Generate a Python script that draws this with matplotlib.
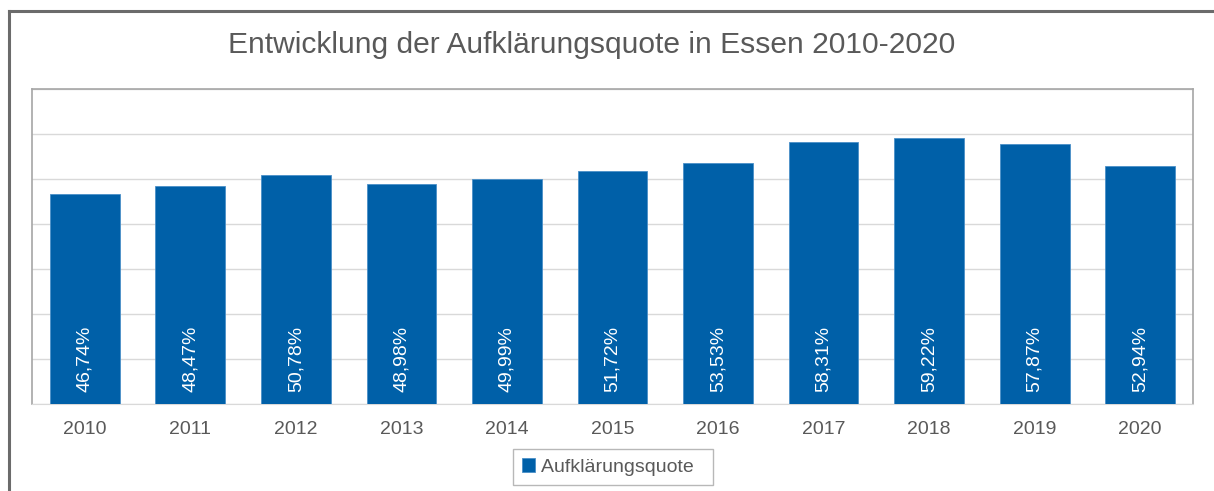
import matplotlib
matplotlib.use('Agg')
import matplotlib.pyplot as plt
from matplotlib.lines import Line2D

years = ['2010', '2011', '2012', '2013', '2014', '2015', '2016', '2017', '2018', '2019', '2020']
quote = [46.74, 48.47, 50.78, 48.98, 49.99, 51.72, 53.53, 58.31, 59.22, 57.87, 52.94]
labels = ['46,74%', '48,47%', '50,78%', '48,98%', '49,99%', '51,72%',
          '53,53%', '58,31%', '59,22%', '57,87%', '52,94%']

plt.rcParams['font.family'] = ['Liberation Sans', 'DejaVu Sans']
grey_txt = '#595959'
bar_col = '#0060a8'

fig = plt.figure(figsize=(12.14, 4.91), dpi=100)
ax = fig.add_axes([32/1214, 1 - 404/491, (1193 - 32)/1214, (404 - 89)/491])

x = range(len(years))
ax.bar(x, quote, width=0.66, color=bar_col, edgecolor='#4a8fc8', linewidth=0.6, zorder=3,
       label='Aufklärungsquote')
for i, lab in enumerate(labels):
    ax.annotate(lab, (i, 0), xytext=(0, 9), textcoords='offset points', rotation=90,
                ha='center', va='bottom', color='white', fontsize=14, zorder=4)

ax.set_xlim(-0.5, len(years) - 0.5)
ax.set_ylim(0, 70)
ax.set_yticks(range(0, 71, 10))
ax.yaxis.grid(True, color='#d9d9d9', linewidth=1)
ax.tick_params(axis='y', left=False, labelleft=False)
ax.set_xticks(list(x))
ax.set_xticklabels(years, fontsize=14, color=grey_txt)
ax.tick_params(axis='x', length=0, pad=12)
for s in ['left', 'top', 'right']:
    ax.spines[s].set_color('#a6a6a6')
    ax.spines[s].set_linewidth(1.2)
ax.spines['bottom'].set_color('#d9d9d9')

fig.text(592/1214, 1 - 45/491, 'Entwicklung der Aufklärungsquote in Essen 2010-2020',
         ha='center', va='center', fontsize=21.6, color=grey_txt)

leg = ax.legend(loc='center', bbox_to_anchor=(613/1214, 1 - 467/491),
                bbox_transform=fig.transFigure, frameon=True, fancybox=False,
                fontsize=14, handlelength=0.7, handleheight=0.7, handletextpad=0.3,
                borderpad=0.45, borderaxespad=0, labelcolor=grey_txt)
leg.get_frame().set_edgecolor('#a6a6a6')
leg.get_frame().set_linewidth(1)
leg._legend_box.sep = 0
leg.get_frame().set_boxstyle('square', pad=0)
# trailing spaces widen the box like the reference
for t in leg.get_texts():
    t.set_text('Aufklärungsquote  ')

# outer chart border (top and left only visible)
fig.add_artist(Line2D([9/1214, 9/1214], [0, 1 - 11/491], transform=fig.transFigure,
                      color='#6b6b6b', linewidth=2.2))
fig.add_artist(Line2D([9/1214, 1], [1 - 11/491, 1 - 11/491], transform=fig.transFigure,
                      color='#6b6b6b', linewidth=2.2))

fig.savefig('out.png', dpi=100)
